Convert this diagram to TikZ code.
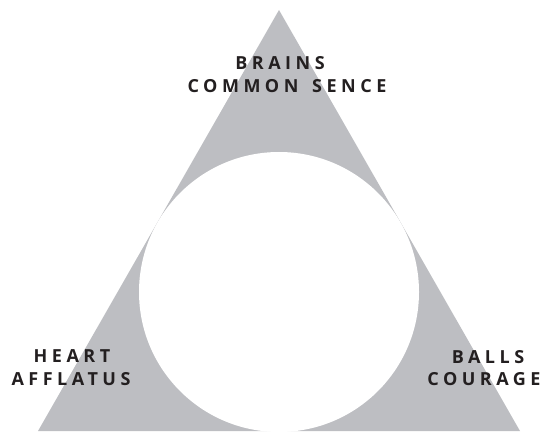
\documentclass[tikz,border=0pt]{standalone}
\usepackage{fontspec}
\newfontfamily\capsfont[LetterSpace=25,WordSpace=1.5]{Open Sans}
\definecolor{trigray}{RGB}{189,190,194}
\definecolor{inkdark}{RGB}{35,31,32}

\begin{document}
\begin{tikzpicture}[
  x=1pt,y=1pt,
  word/.style={font=\capsfont\bfseries\fontsize{18}{21}\selectfont,
               text=inkdark,inner sep=0pt,anchor=base}
]
\useasboundingbox (0,0) rectangle (545,431);
% shaded triangle with the round hole
\fill[trigray] (38,0) -- (279,421) -- (520,0) -- cycle;
\fill[white] (279,139) circle (140);
% top corner
\node[word] (brains) at (280,361) {BRAINS};
\node[word] (sense) at (287,338) {COMMON SENCE};
% left corner
\node[word] (heart) at (72,69) {HEART};
\node[word] (afflatus) at (71,46) {AFFLATUS};
% right corner
\node[word] (balls) at (488,68) {BALLS};
\node[word] (courage) at (484,46) {COURAGE};
\end{tikzpicture}
\end{document}
